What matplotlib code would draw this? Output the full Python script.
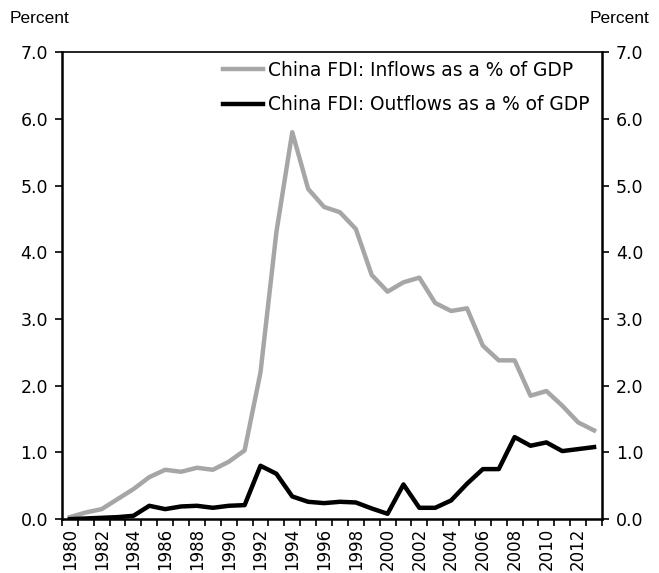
import matplotlib.pyplot as plt
import numpy as np

plt.rcParams['font.family'] = ['DejaVu Sans']

years = list(range(1980, 2014))
inflows = [0.03, 0.10, 0.15, 0.30, 0.45, 0.63, 0.74, 0.71, 0.77, 0.74,
           0.86, 1.03, 2.20, 4.30, 5.80, 4.95, 4.68, 4.60, 4.35, 3.66,
           3.41, 3.55, 3.62, 3.24, 3.12, 3.16, 2.60, 2.38, 2.38, 1.85,
           1.92, 1.70, 1.45, 1.33]
outflows = [0.00, 0.01, 0.02, 0.03, 0.05, 0.20, 0.15, 0.19, 0.20, 0.17,
            0.20, 0.21, 0.80, 0.68, 0.34, 0.26, 0.24, 0.26, 0.25, 0.16,
            0.08, 0.52, 0.17, 0.17, 0.28, 0.53, 0.75, 0.75, 1.23, 1.10,
            1.15, 1.02, 1.05, 1.08]
yticks = [0.0, 1.0, 2.0, 3.0, 4.0, 5.0, 6.0, 7.0]

fig = plt.figure(figsize=(6.59, 5.73), dpi=100)
ax = fig.add_axes([0.094, 0.094, 0.8195, 0.815])
x = np.arange(len(years))

ax.plot(x, inflows, color='#a6a6a6', lw=3.2, label='China FDI: Inflows as a % of GDP')
ax.plot(x, outflows, color='black', lw=3.2, label='China FDI: Outflows as a % of GDP')

ax.set_xlim(-0.5, len(years) - 0.5)
ax.set_ylim(0, 7)

# ticks sit between categories, labels on every other year
ax.set_xticks(np.arange(len(years) + 1) - 0.5)
ax.set_xticklabels([])
ax.set_xticks(x[::2], minor=True)
ax.set_xticklabels([str(y) for y in years[::2]], minor=True, rotation=90, fontsize=12)
ax.tick_params(axis='x', which='minor', length=0, pad=6)
ax.tick_params(axis='x', which='major', direction='out', length=5, width=1.2)

ax.set_yticks(yticks)
ax.set_yticklabels(['%.1f' % v for v in yticks], fontsize=12.5)
ax.tick_params(axis='y', direction='out', length=5, width=1.2, left=True, right=True,
               labelleft=True, labelright=True, pad=5)

for s in ['left', 'right', 'bottom']:
    ax.spines[s].set_linewidth(1.8)
ax.spines['top'].set_linewidth(1.2)

fig.text(0.015, 0.967, 'Percent', fontsize=12.5, ha='left', va='center',
         family='Liberation Sans')
fig.text(0.985, 0.967, 'Percent', fontsize=12.5, ha='right', va='center',
         family='Liberation Sans')

ax.legend(loc='upper left', frameon=False, fontsize=13.4, handlelength=2.15,
          handletextpad=0.25, labelspacing=0.85, borderaxespad=0.0,
          bbox_to_anchor=(0.285, 0.998))

plt.savefig('out.png', dpi=100)
